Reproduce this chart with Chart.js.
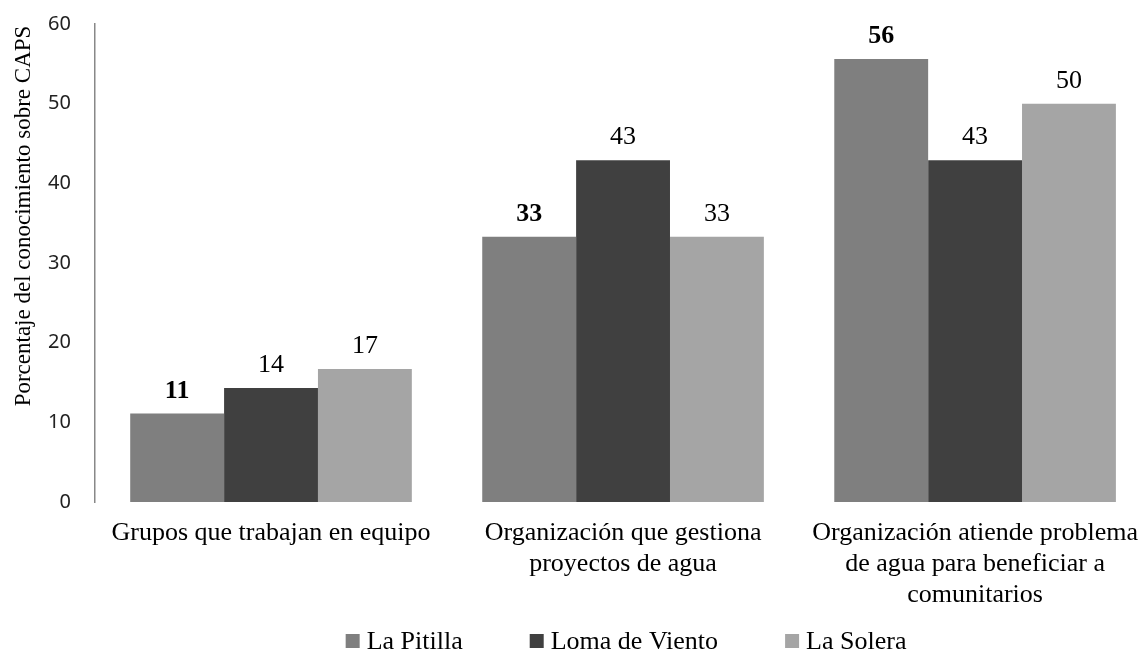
<!DOCTYPE html>
<html>
<head>
<meta charset="utf-8">
<script src="https://cdn.jsdelivr.net/npm/chart.js@4/dist/chart.umd.min.js"></script>
<style>
  html, body { margin: 0; padding: 0; background: #fff; overflow: hidden; }
  #wrap { width: 1144px; height: 652px; overflow: hidden; }
</style>
</head>
<body>
<div id="wrap">
  <canvas id="chart" width="1154" height="652"></canvas>
</div>
<script>
// Datos del gráfico
const categorias = [
    ['Grupos que trabajan en equipo'],
    ['Organización que gestiona', 'proyectos de agua'],
    ['Organización atiende problema', 'de agua para beneficiar a', 'comunitarios']
];
const series = ['La Pitilla', 'Loma de Viento', 'La Solera'];
const laPitilla = [11.1, 33.3, 55.6];
const lomaDeViento = [14.3, 42.9, 42.9];
const laSolera = [16.7, 33.3, 50.0];
const colores = ['#7f7f7f', '#404040', '#a5a5a5'];
const yTicks = [0, 10, 20, 30, 40, 50, 60];
const tituloY = 'Porcentaje del conocimiento sobre CAPS';

const serif = '"Liberation Serif", "Times New Roman", serif';

// Etiquetas de valor encima de cada barra
const valueLabels = {
    id: 'valueLabels',
    afterDatasetsDraw(chart) {
        const ctx = chart.ctx;
        ctx.save();
        ctx.fillStyle = '#000';
        ctx.textAlign = 'center';
        ctx.textBaseline = 'alphabetic';
        chart.data.datasets.forEach((ds, i) => {
            ctx.font = (i === 0 ? 'bold ' : '') + '26px ' + serif;
            chart.getDatasetMeta(i).data.forEach((bar, j) => {
                ctx.fillText(String(Math.round(ds.data[j])), bar.x, bar.y - 16);
            });
        });
        ctx.restore();
    }
};

// Título del eje Y y leyenda inferior
const extras = {
    id: 'extras',
    afterDraw(chart) {
        const ctx = chart.ctx;
        ctx.save();
        ctx.fillStyle = '#000';
        ctx.font = '23px ' + serif;
        ctx.translate(30, 216);
        ctx.rotate(-Math.PI / 2);
        ctx.textAlign = 'center';
        ctx.textBaseline = 'alphabetic';
        ctx.fillText(tituloY, 0, 0);
        ctx.restore();

        ctx.save();
        ctx.font = '26px ' + serif;
        const box = 14, gapText = 7, gapItem = 67;
        const widths = series.map(s => ctx.measureText(s).width);
        let total = widths.reduce((a, w) => a + w + box + gapText, 0) + gapItem * (series.length - 1);
        const center = (chart.chartArea.left + chart.chartArea.right) / 2 + 3;
        let x = center - total / 2;
        series.forEach((s, i) => {
            ctx.fillStyle = colores[i];
            ctx.fillRect(x, 634, box, box);
            ctx.fillStyle = '#000';
            ctx.textAlign = 'left';
            ctx.textBaseline = 'alphabetic';
            ctx.fillText(s, x + box + gapText, 649);
            x += box + gapText + widths[i] + gapItem;
        });
        ctx.restore();
    }
};

const ctx = document.getElementById('chart').getContext('2d');
new Chart(ctx, {
    type: 'bar',
    data: {
        labels: categorias,
        datasets: [laPitilla, lomaDeViento, laSolera].map((d, i) => ({
            label: series[i],
            data: d,
            backgroundColor: colores[i],
            borderWidth: 0,
            barPercentage: 1.0,
            categoryPercentage: 0.8
        }))
    },
    options: {
        responsive: false,
        animation: false,
        layout: { padding: { top: 24, bottom: 40, left: 0, right: 0 } },
        plugins: {
            legend: { display: false },
            tooltip: { enabled: false }
        },
        scales: {
            x: {
                grid: { display: false, drawTicks: false },
                border: { display: false },
                ticks: {
                    color: '#000',
                    padding: 16,
                    maxRotation: 0,
                    minRotation: 0,
                    autoSkip: false,
                    font: { family: serif, size: 26, lineHeight: 1.19 }
                },
                afterFit(scale) { scale.height = 110; }
            },
            y: {
                min: 0,
                max: 60,
                afterBuildTicks(scale) { scale.ticks = yTicks.map(v => ({ value: v })); },
                grid: { display: false, drawTicks: false },
                border: { display: true, color: '#888', width: 1.5 },
                ticks: {
                    color: '#222',
                    padding: 24,
                    font: { family: '"Noto Sans", sans-serif', size: 20 }
                },
                afterFit(scale) {
                    scale.width = 95;
                    scale.paddingTop = 0;
                    scale.paddingBottom = 0;
                }
            }
        }
    },
    plugins: [valueLabels, extras]
});
</script>
</body>
</html>
